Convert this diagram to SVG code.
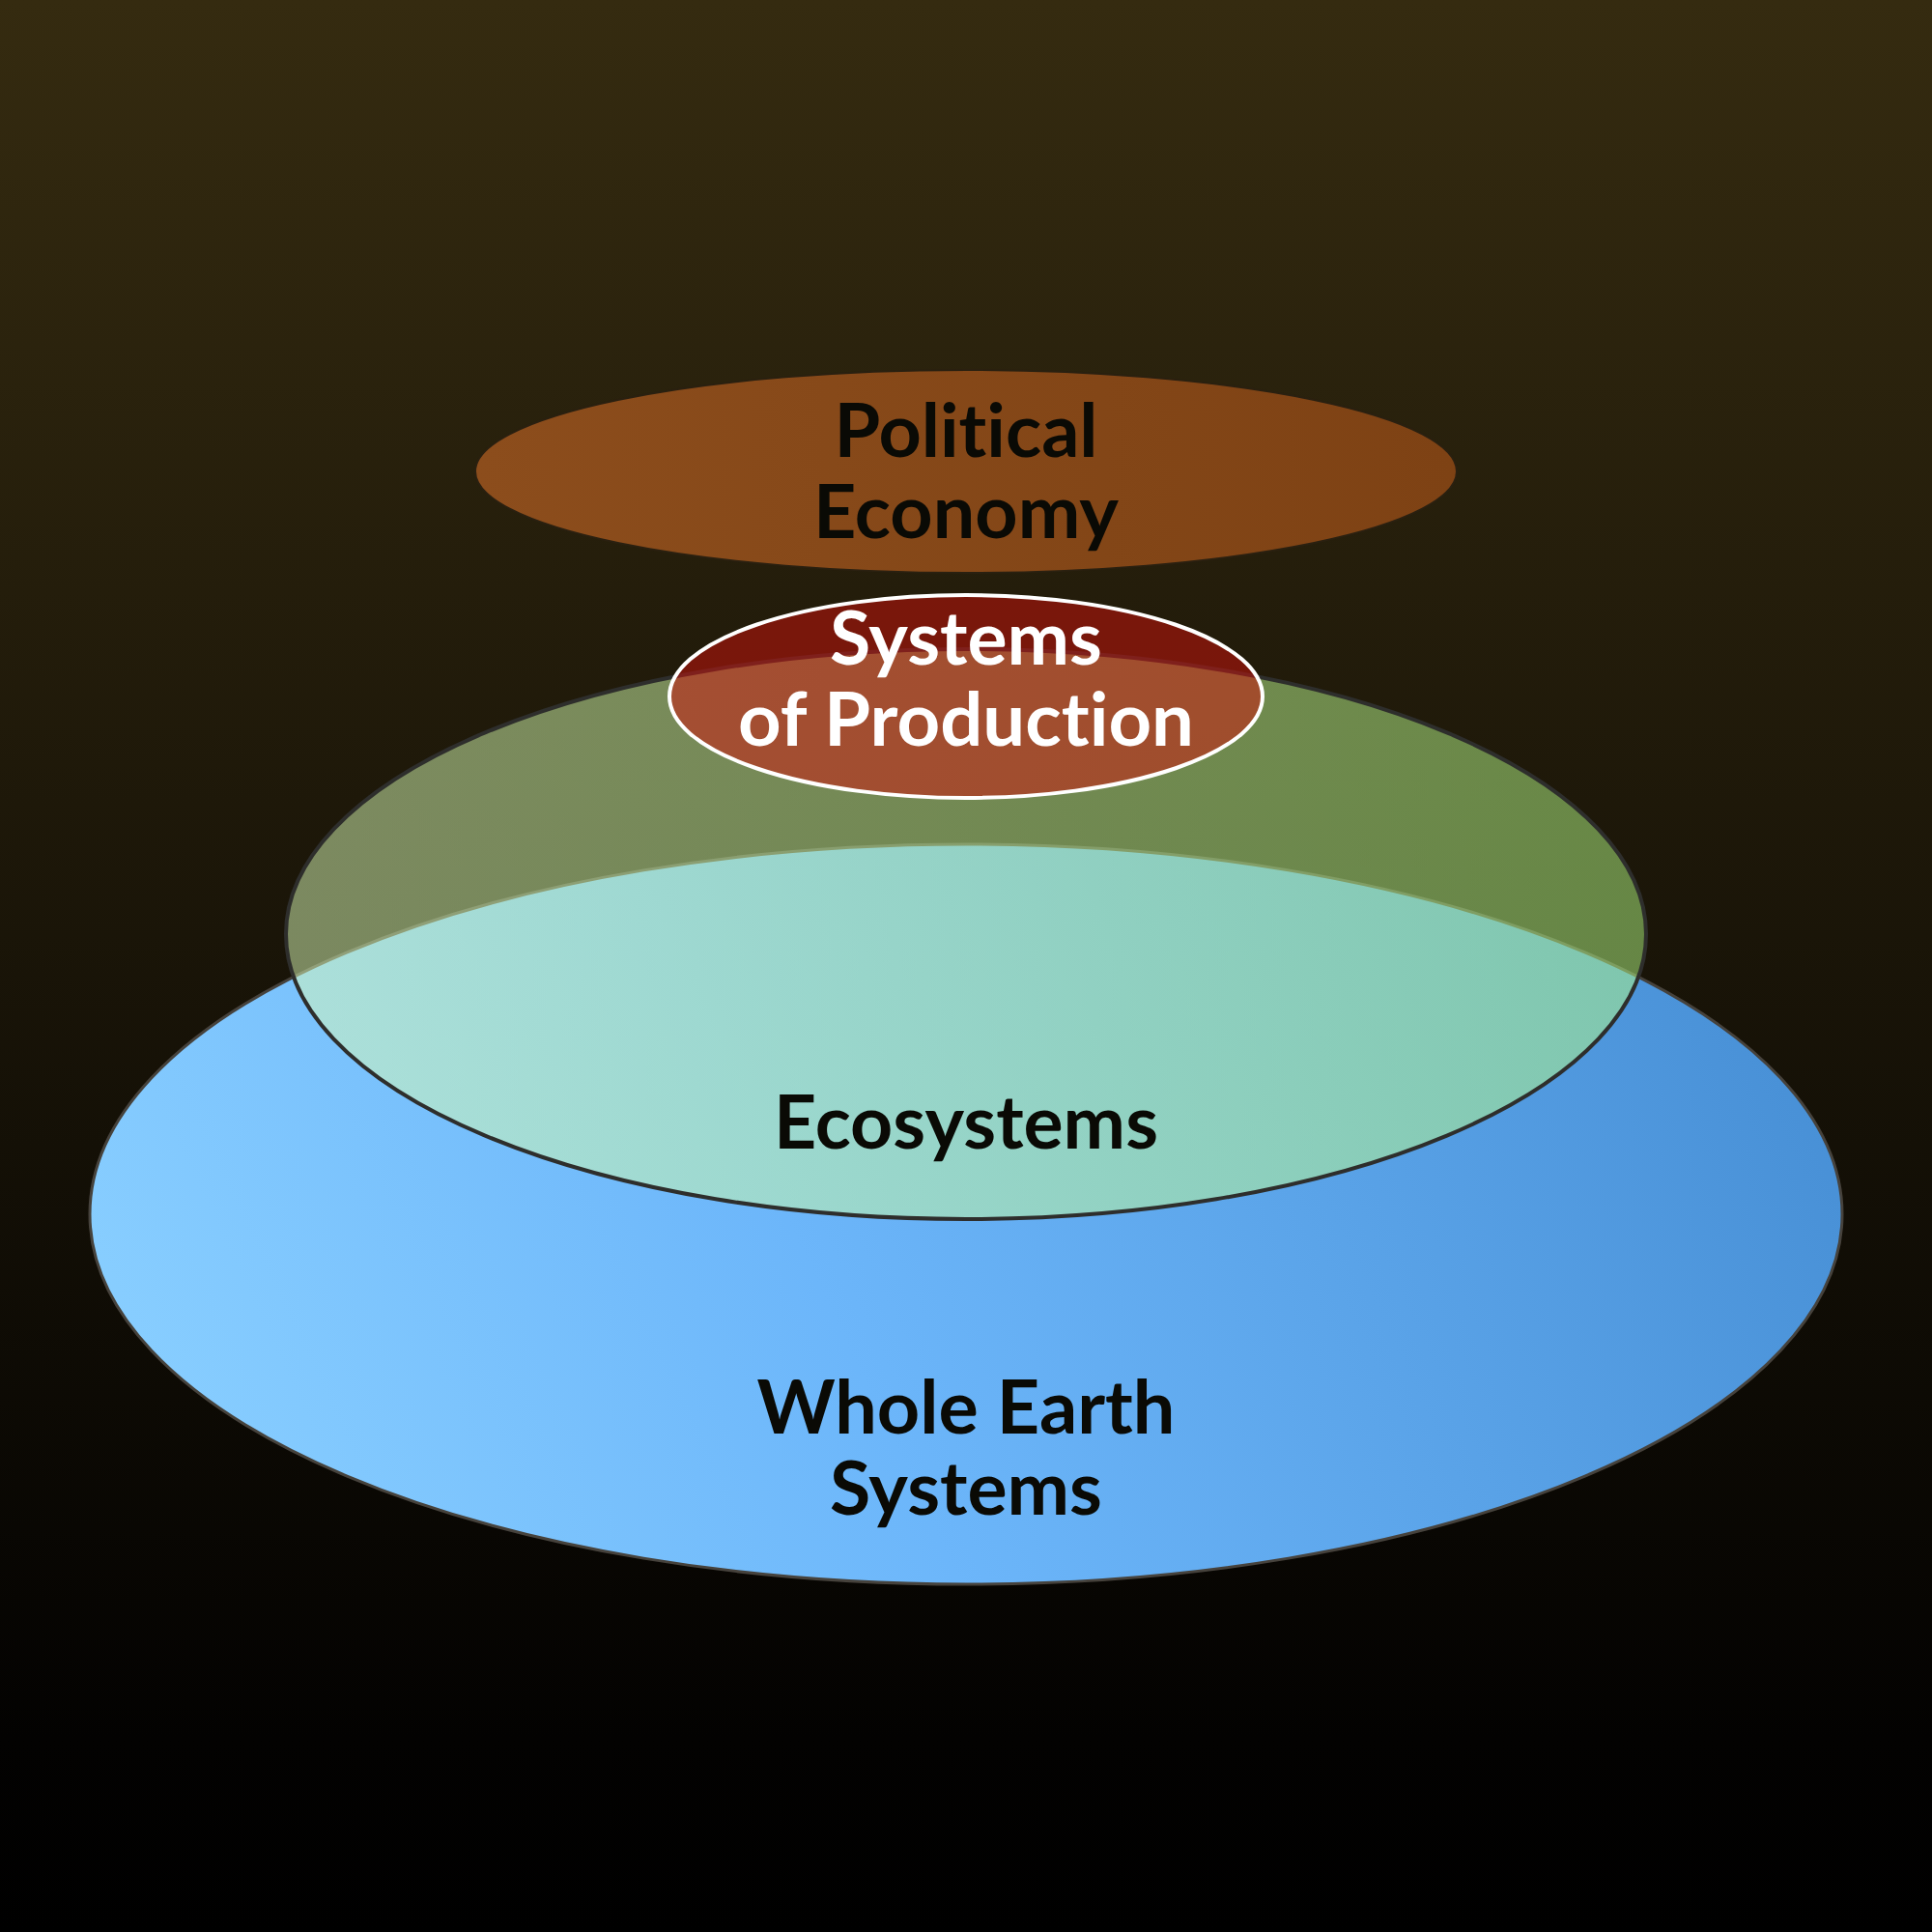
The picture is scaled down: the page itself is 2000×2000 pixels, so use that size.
<svg xmlns="http://www.w3.org/2000/svg" width="2000" height="2000" viewBox="0 0 2000 2000">
  <defs>
    <linearGradient id="bg" x1="0" y1="0" x2="0" y2="1">
      <stop offset="0" stop-color="#352b10"/>
      <stop offset="0.9" stop-color="#030201"/>
      <stop offset="1" stop-color="#000000"/>
    </linearGradient>
    <linearGradient id="blue" x1="0" y1="0.6" x2="1" y2="0.4">
      <stop offset="0" stop-color="#88ceff"/>
      <stop offset="0.4" stop-color="#6cb6fa"/>
      <stop offset="1" stop-color="#4890d6"/>
    </linearGradient>
    <linearGradient id="green" x1="0" y1="0.5" x2="1" y2="0.5">
      <stop offset="0" stop-color="#dcfcb8"/>
      <stop offset="1" stop-color="#b2f882"/>
    </linearGradient>
    <linearGradient id="brown" x1="0" y1="0.5" x2="1" y2="0.5">
      <stop offset="0" stop-color="#8c4d1c"/>
      <stop offset="1" stop-color="#7e4214"/>
    </linearGradient>
    <style>
      .lbl { font-family: Lato, "Open Sans", "Liberation Sans", sans-serif; font-weight: 700; font-size: 77px; text-anchor: middle; fill: #0a0a05; font-variant-ligatures: none; font-feature-settings: "liga" 0, "clig" 0; }
      .white { fill: #ffffff; }
    </style>
  </defs>
  <rect x="0" y="0" width="2000" height="2000" fill="url(#bg)"/>

  <g id="whole-earth">
    <ellipse cx="1000" cy="1257" rx="907" ry="383" fill="url(#blue)" stroke="#46423c" stroke-width="3"/>
    <text class="lbl" x="1000" y="1484" textLength="433" lengthAdjust="spacingAndGlyphs">Whole Earth</text>
    <text class="lbl" x="1000" y="1568" textLength="282" lengthAdjust="spacingAndGlyphs">Systems</text>
  </g>

  <g id="ecosystems">
    <ellipse cx="1000" cy="967" rx="704" ry="295" fill="url(#green)" fill-opacity="0.5" stroke="#2e2e2c" stroke-width="4"/>
    <text class="lbl" x="1000" y="1189" textLength="398" lengthAdjust="spacingAndGlyphs">Ecosystems</text>
  </g>

  <g id="political-economy">
    <ellipse cx="1000" cy="488" rx="508" ry="105" fill="url(#brown)" stroke="#2a2010" stroke-width="2"/>
    <text class="lbl" x="1000" y="473" textLength="273" lengthAdjust="spacingAndGlyphs">Political</text>
    <text class="lbl" x="1000" y="557" textLength="316" lengthAdjust="spacingAndGlyphs">Economy</text>
  </g>

  <g id="systems-of-production">
    <ellipse cx="1000" cy="721" rx="307" ry="105" fill="#d0120c" fill-opacity="0.5" stroke="#ffffff" stroke-width="4"/>
    <text class="lbl white" x="1000" y="688" textLength="282" lengthAdjust="spacingAndGlyphs">Systems</text>
    <text class="lbl white" x="1000" y="772" textLength="472" lengthAdjust="spacingAndGlyphs">of Production</text>
  </g>

  <g id="connectors"/>
</svg>
